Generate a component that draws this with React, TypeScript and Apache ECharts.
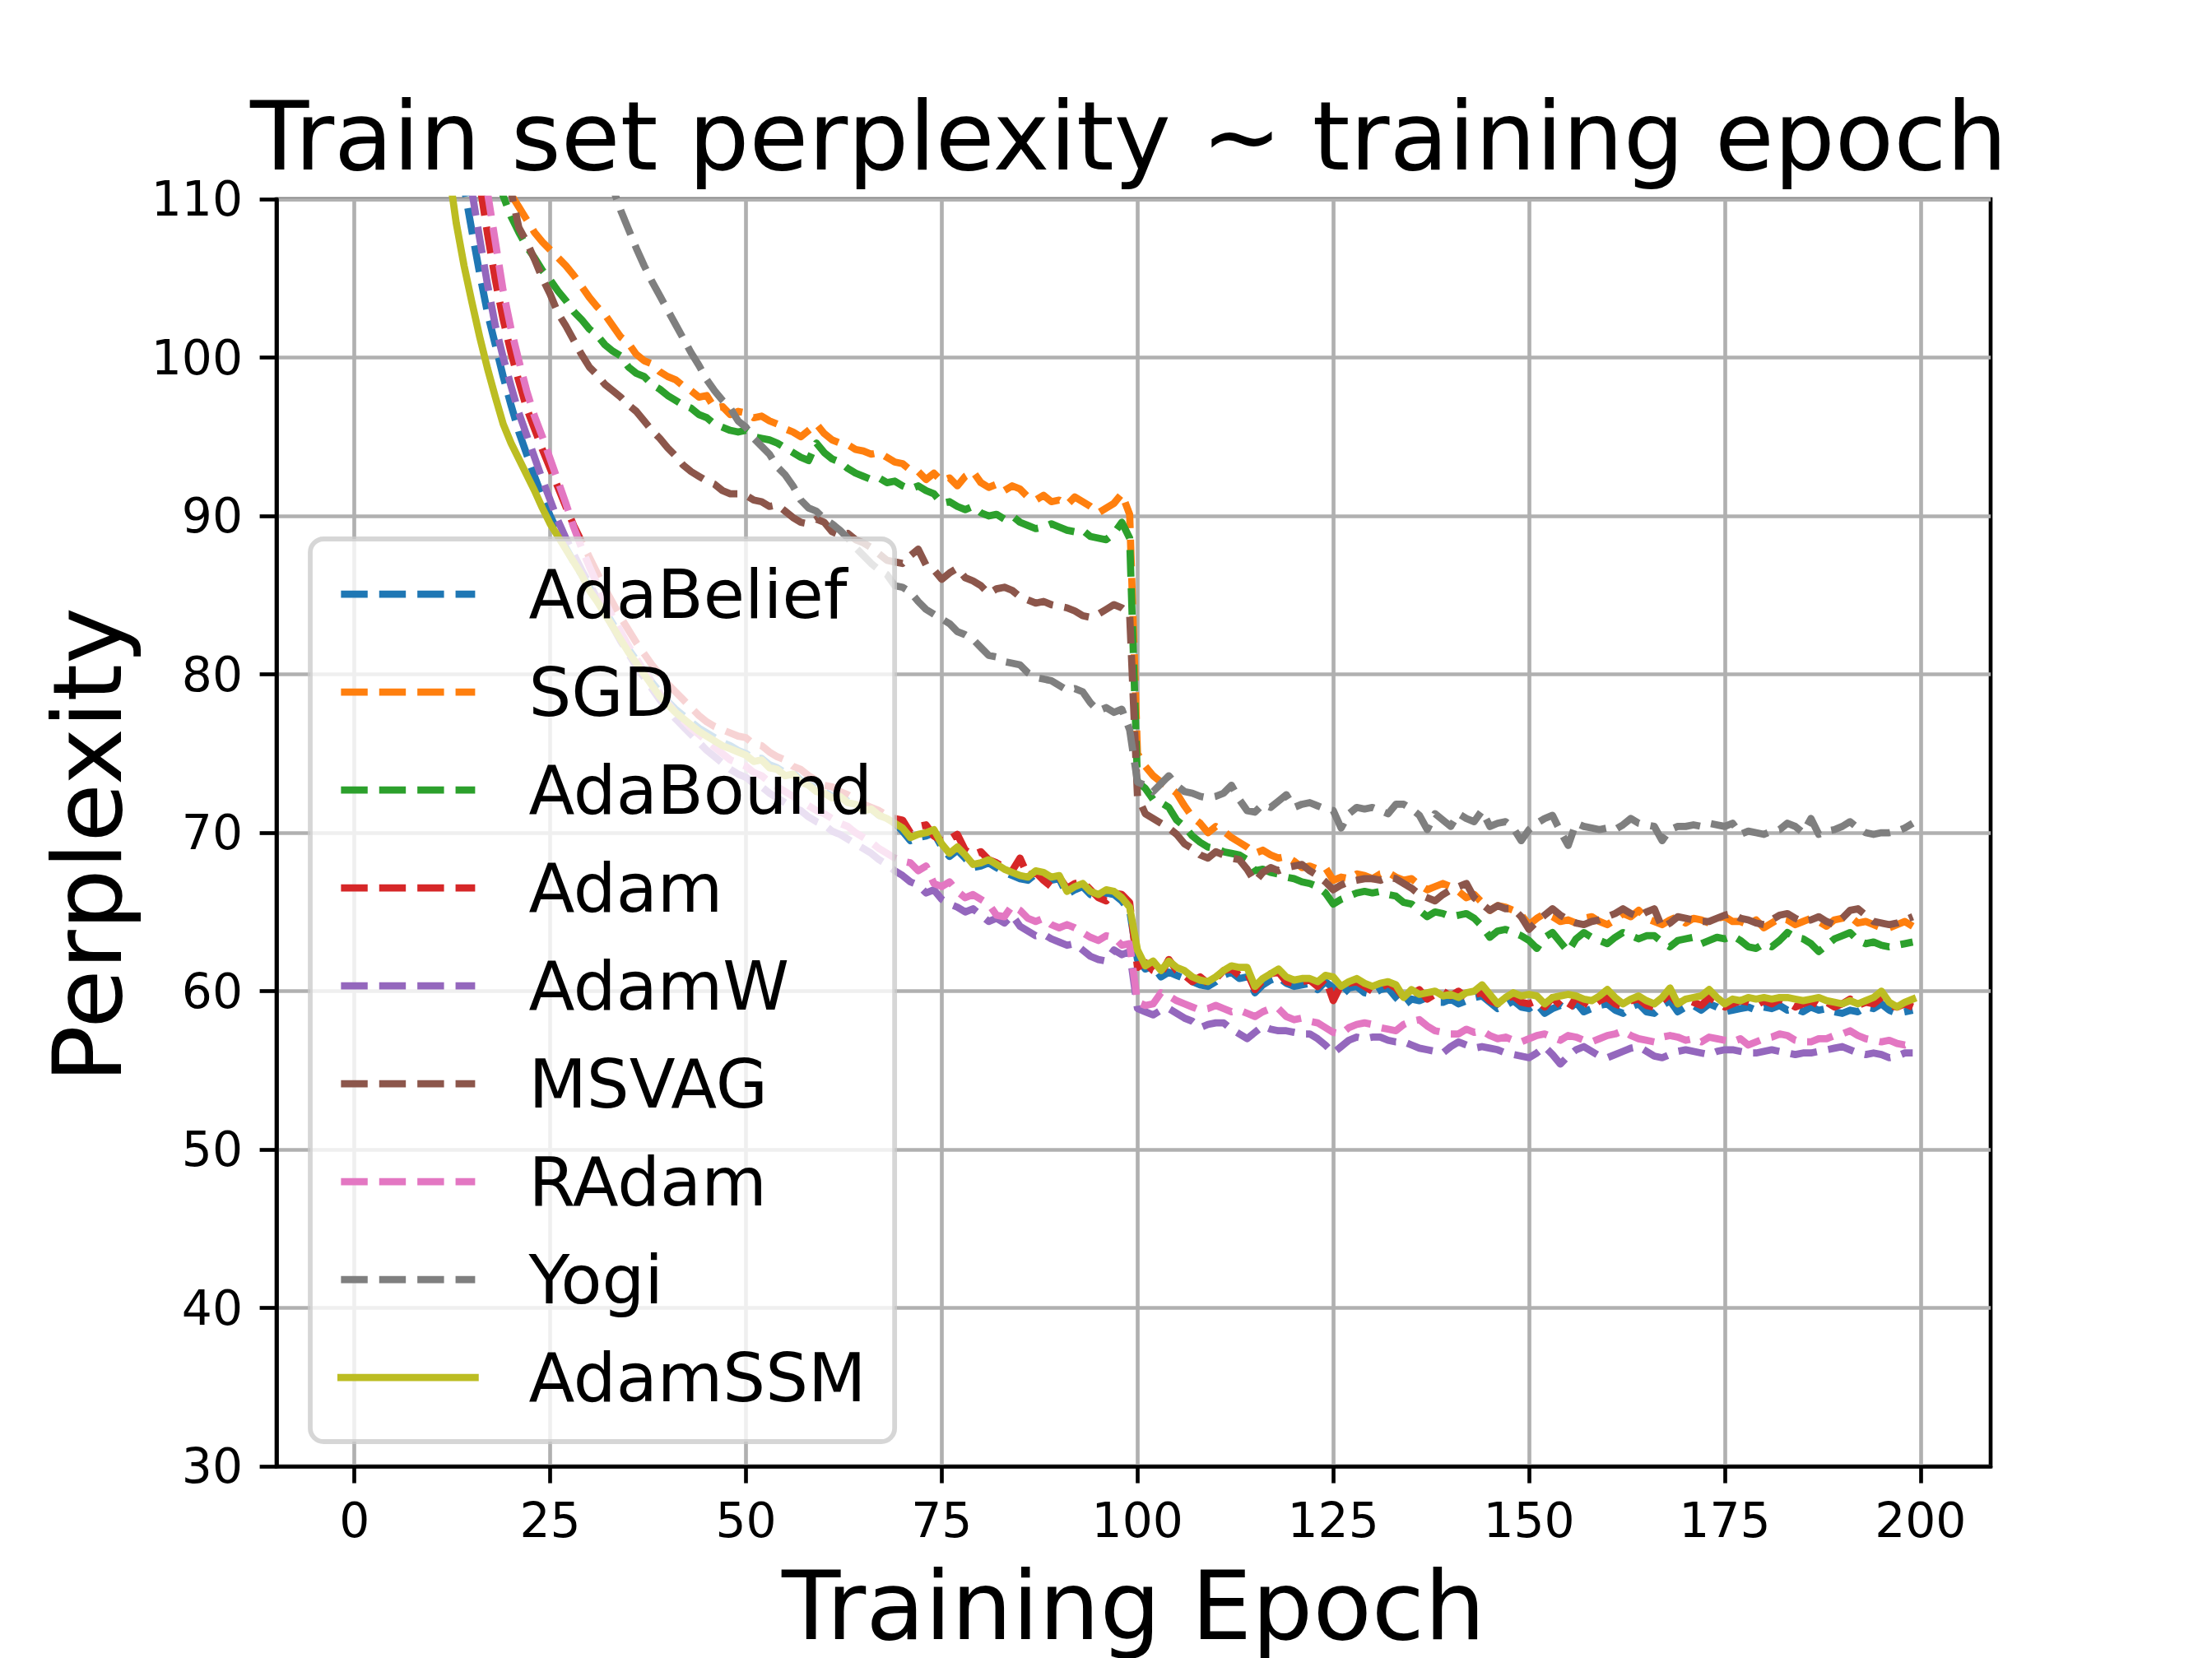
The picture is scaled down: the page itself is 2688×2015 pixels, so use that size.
import React, { useEffect, useRef } from "react";
import * as echarts from "echarts";

const epochs = Array.from({ length: 200 }, (_, i) => i);
const xTicks = [0, 25, 50, 75, 100, 125, 150, 175, 200];
const seriesNames = ["AdaBelief", "SGD", "AdaBound", "Adam", "AdamW", "MSVAG", "RAdam", "Yogi", "AdamSSM"];
const seriesColors = ["#1f77b4", "#ff7f0e", "#2ca02c", "#d62728", "#9467bd", "#8c564b", "#e377c2", "#7f7f7f", "#bcbd22"];

const adaBelief = [
  1500, 1000, 700, 520, 400, 320, 265, 225, 195, 172,
  155, 140, 128, 119, 110.8, 108.0, 105.3, 102.8, 100.8, 98.8,
  97.0, 95.3, 93.9, 92.5, 91.2, 90.0, 89.0, 88.0, 87.1, 86.3,
  85.5, 84.8, 84.0, 83.2, 82.4, 81.6, 80.9, 80.2, 79.5, 78.9,
  78.3, 77.8, 77.4, 77.0, 76.6, 76.3, 76.0, 75.7, 75.5, 75.2,
  75.0, 74.7, 74.7, 74.3, 74.1, 73.8, 73.8, 73.3, 73.1, 72.8,
  72.6, 72.3, 72.4, 72.0, 71.8, 71.5, 71.5, 71.1, 70.9, 70.6,
  70.1, 69.5, 69.7, 69.8, 70.0, 69.1, 68.5, 68.9, 68.4, 67.8,
  67.9, 68.1, 67.8, 67.5, 67.3, 67.1, 67.0, 67.4, 67.3, 67.0,
  67.1, 66.1, 66.4, 66.6, 66.1, 65.9, 66.2, 66.1, 65.7, 65.1,
  62.0, 61.4, 61.6, 60.9, 61.2, 61.0, 60.8, 60.6, 60.4, 60.3,
  60.6, 61.0, 61.2, 60.8, 60.9, 59.9, 60.4, 60.7, 60.9, 60.5,
  60.3, 60.4, 60.5, 60.1, 60.6, 60.2, 59.7, 60.2, 60.3, 59.9,
  59.8, 60.1, 60.2, 59.6, 59.1, 59.5, 59.4, 59.6, 59.3, 59.3,
  59.5, 59.2, 59.4, 59.6, 59.7, 59.3, 58.9, 59.1, 59.4, 59.0,
  58.9, 59.2, 58.6, 58.9, 59.1, 58.8, 59.3, 58.7, 58.9, 59.1,
  59.2, 58.8, 58.6, 59.0, 59.2, 58.7, 58.6, 59.1, 59.4, 58.7,
  59.0, 59.1, 58.8, 59.2, 59.0, 58.7, 58.8, 58.9, 59.0, 58.8,
  59.0, 58.9, 59.1, 58.8, 58.9, 58.7, 59.0, 58.8, 58.9, 58.7,
  58.6, 58.8, 58.7, 59.0, 58.9, 59.2, 58.8, 58.6, 58.7, 58.8,
];

const sgd = [
  2500, 1500, 900, 600, 420, 310, 240, 195, 165, 145,
  133, 126, 121, 118, 116, 114.5, 113.3, 112.3, 111.5, 110.9,
  110.3, 109.5, 108.7, 107.9, 107.3, 106.8, 106.3, 105.8, 105.2, 104.5,
  103.8, 103.2, 102.7, 102.0, 101.3, 100.9, 100.2, 99.8, 99.6, 99.1,
  98.8, 98.6, 98.2, 97.9, 97.5, 97.6, 96.8, 96.9, 96.4, 96.6,
  96.5, 96.2, 96.3, 96.0, 95.8, 95.5, 95.3, 95.0, 95.4, 95.8,
  95.2, 94.8, 94.6, 94.5, 94.2, 94.1, 93.9, 94.0, 93.7, 93.4,
  93.3, 92.9, 92.8, 92.3, 92.7, 92.2, 92.4, 91.9, 92.5, 92.8,
  92.1, 91.8, 92.0, 91.6, 91.9, 91.7, 91.2, 91.0, 91.3, 90.9,
  91.0, 90.7, 91.2, 90.9, 90.6, 90.2, 90.5, 90.8, 91.4, 90.1,
  75.0, 74.2, 73.6, 73.2, 72.9, 72.5, 71.7, 71.0, 70.6, 70.0,
  70.4, 70.1, 69.7, 69.4, 69.1, 68.7, 68.9, 68.6, 68.4, 68.5,
  68.2, 67.8, 67.9, 67.7, 67.8, 67.0, 67.2, 67.1, 67.4, 67.3,
  67.1, 67.4, 67.5, 67.2, 67.0, 67.1, 66.7, 66.4, 66.6, 66.8,
  66.6, 66.3, 65.9, 66.1, 65.6, 65.1, 65.4, 65.3, 65.1, 64.8,
  64.2, 64.6, 64.9, 64.7, 64.4, 64.5, 64.3, 64.6, 64.7, 64.4,
  64.2, 64.5, 64.9, 64.7, 65.1, 64.6, 64.4, 64.2, 64.5, 64.7,
  64.3, 64.6, 64.5, 64.3, 64.6, 64.7, 64.4, 64.4, 64.2, 64.5,
  64.0, 64.3, 64.6, 64.5, 64.2, 64.4, 64.6, 64.4, 64.1, 64.5,
  64.6, 64.7, 64.3, 64.4, 64.2, 64.0, 64.0, 64.2, 64.4, 64.1,
];

const adaBound = [
  2400, 1450, 880, 590, 410, 300, 235, 190, 160, 140,
  128, 122, 118, 116, 114.8, 114.0, 113.3, 112.7, 111.6, 110.2,
  108.9, 107.9, 107.0, 106.3, 105.5, 104.9, 104.2, 103.6, 102.9, 102.4,
  101.8, 101.4, 100.8, 100.4, 100.1, 99.4, 99.0, 98.8, 98.3, 98.0,
  97.6, 97.3, 97.0, 96.8, 96.4, 96.2, 95.8, 95.6, 95.4, 95.3,
  95.4, 95.0, 94.9, 94.8, 94.6, 94.3, 94.0, 93.7, 93.5, 94.6,
  94.0, 93.6, 93.4, 93.0, 92.7, 92.5, 92.3, 92.4, 92.1, 92.2,
  91.9, 91.7, 91.9, 91.6, 91.4, 90.8, 90.9, 90.6, 90.4, 90.6,
  90.2, 90.0, 90.1, 89.8, 90.0, 89.6, 89.4, 89.2, 89.3, 89.5,
  89.3, 89.1, 89.0, 89.1, 88.7, 88.6, 88.5, 88.9, 89.6, 88.6,
  73.2, 72.8, 72.1, 71.9, 71.6, 70.8, 70.4, 69.8, 69.4, 69.1,
  69.0, 68.8, 68.7, 68.6, 68.3, 67.6, 67.7, 67.5, 67.4, 67.2,
  67.1, 66.9, 66.8, 66.6, 66.2, 65.5, 65.8, 66.0, 66.2, 66.3,
  66.2, 66.3, 66.1, 66.0, 65.6, 65.5, 65.1, 64.7, 65.0, 64.9,
  64.7, 64.8, 64.9, 64.6, 64.1, 63.4, 63.8, 63.9, 63.7, 63.5,
  63.2, 62.7, 63.4, 63.7, 63.1, 62.5, 63.3, 63.7, 63.4, 63.2,
  63.0, 63.4, 63.7, 63.5, 63.3, 63.5, 63.5, 63.1, 62.8, 63.2,
  63.3, 63.4, 63.0, 63.2, 63.4, 63.3, 63.5, 63.2, 62.8, 62.7,
  63.0, 62.8, 63.2, 63.7, 63.4, 63.3, 63.0, 62.5, 62.9, 63.3,
  63.5, 63.7, 63.2, 63.0, 63.1, 62.9, 62.8, 62.9, 63.0, 63.1,
];

const adam = [
  1800, 1200, 820, 600, 460, 360, 295, 245, 208, 180,
  160, 145, 133, 124, 118, 114, 111, 107.8, 104.9, 102.4,
  100.3, 98.5, 96.8, 95.5, 94.2, 93.0, 91.8, 90.6, 89.4, 88.4,
  87.4, 86.4, 85.4, 84.5, 83.6, 82.8, 82.0, 81.3, 80.6, 80.0,
  79.4, 78.9, 78.4, 77.9, 77.4, 77.0, 76.7, 76.5, 76.3, 76.1,
  76.0, 75.6, 75.5, 75.1, 74.8, 74.6, 74.2, 74.0, 73.6, 73.3,
  73.0, 72.9, 72.6, 72.4, 72.1, 71.8, 71.6, 71.4, 71.1, 70.9,
  70.8, 70.0, 70.4, 70.5, 69.8, 69.5, 69.6, 69.9, 68.9, 68.6,
  68.8, 68.3, 68.1, 67.8, 67.6, 68.4, 67.3, 67.5, 67.0, 66.6,
  67.2, 66.5, 66.8, 66.9, 66.4, 65.9, 65.7, 66.2, 66.1, 65.6,
  61.5, 61.8, 61.3, 61.1, 62.0, 61.3, 61.0, 60.6, 60.9, 60.5,
  60.8, 61.3, 61.4, 61.0, 61.2, 60.1, 60.7, 61.1, 61.2, 60.6,
  60.5, 60.6, 60.7, 60.3, 60.8, 59.4, 60.4, 60.5, 60.6, 60.3,
  60.0, 60.2, 60.5, 60.2, 59.6, 59.8, 60.1, 59.5, 59.8, 60.0,
  59.7, 60.0, 59.6, 59.8, 59.9, 59.4, 59.2, 59.5, 59.7, 59.3,
  59.2, 59.4, 59.0, 59.6, 59.1, 58.8, 59.6, 59.3, 59.0, 59.4,
  59.6, 59.2, 59.0, 59.4, 59.5, 59.1, 59.0, 59.4, 59.8, 59.2,
  59.5, 59.3, 59.1, 59.6, 59.3, 59.0, 59.2, 59.4, 59.3, 59.1,
  59.4, 59.2, 59.5, 59.3, 59.0, 59.2, 59.4, 59.1, 59.3, 59.0,
  59.2, 59.5, 59.1, 59.3, 59.2, 59.6, 59.1, 59.0, 59.2, 59.0,
];

const adamW = [
  1600, 1100, 760, 560, 430, 340, 280, 235, 202, 176,
  157, 142, 130, 121, 115, 110.5, 107.5, 104.6, 102.0, 100.0,
  98.2, 96.5, 95.1, 93.7, 92.3, 91.0, 89.7, 88.6, 87.6, 86.6,
  85.7, 84.8, 83.9, 83.0, 82.1, 81.3, 80.5, 79.8, 79.1, 78.4,
  77.8, 77.2, 76.7, 76.2, 75.7, 75.2, 74.8, 74.4, 74.0, 73.7,
  73.5, 73.1, 72.9, 72.5, 72.2, 71.9, 71.6, 71.4, 71.0, 70.7,
  70.5, 70.1, 69.9, 69.6, 69.3, 69.0, 68.7, 68.3, 68.0, 67.6,
  67.3, 66.9, 66.7, 66.2, 66.4, 65.8, 65.5, 65.3, 65.0, 65.2,
  64.8, 64.4, 64.6, 64.3, 64.8, 64.1, 63.8, 63.5, 63.6, 63.3,
  63.1, 62.9, 63.0, 62.6, 62.2, 62.0, 61.9, 62.6, 62.3, 62.5,
  58.9, 58.7, 58.5, 58.8, 58.9, 58.6, 58.3, 58.1, 57.7, 57.9,
  58.0, 58.0, 57.6, 57.3, 57.0, 57.4, 57.8, 57.6, 57.5, 57.5,
  57.4, 57.3, 57.3, 57.0, 56.6, 56.1, 56.5, 56.9, 57.1, 57.0,
  57.1, 57.1, 56.9, 56.8, 56.8, 56.6, 56.4, 56.3, 56.2, 56.1,
  56.5, 56.8, 56.6, 56.4, 56.5, 56.4, 56.3, 56.1, 56.0, 55.9,
  55.8, 56.1, 56.5, 56.0, 55.4, 55.9, 56.3, 56.5, 56.2, 55.9,
  55.8, 56.0, 56.2, 56.4, 56.5, 56.2, 55.9, 55.8, 56.0, 56.2,
  56.3, 56.2, 56.1, 56.0, 56.2, 56.3, 56.3, 56.2, 56.1, 56.1,
  56.2, 56.3, 56.2, 56.1, 56.0, 56.1, 56.1, 56.2, 56.3, 56.4,
  56.5, 56.3, 56.1, 56.0, 56.1, 56.0, 55.8, 55.9, 56.1, 56.1,
];

const msvag = [
  2200, 1350, 820, 560, 400, 300, 235, 192, 163, 143,
  130, 123, 119, 117, 115.6, 114.8, 114.0, 113.4, 112.9, 112.2,
  110.5, 108.2, 107.3, 106.2, 105.0, 104.0, 102.8, 102.0, 101.1, 100.2,
  99.4, 98.9, 98.3, 97.9, 97.5, 97.0, 96.6, 96.0, 95.4, 94.9,
  94.3, 93.8, 93.2, 92.8, 92.5, 92.2, 92.0, 91.6, 91.4, 91.4,
  91.3, 91.0, 90.9, 90.6, 90.7, 90.3, 89.9, 89.6, 89.5, 89.8,
  89.6, 89.0, 88.8, 88.9, 88.5, 88.3, 88.0, 87.6, 87.2, 87.1,
  87.0, 87.5, 87.9, 86.9, 86.6, 86.0, 86.4, 86.7, 86.1, 85.9,
  85.6, 85.1, 85.4, 85.5, 85.3, 84.9, 84.7, 84.5, 84.6, 84.4,
  84.3, 84.2, 84.0, 83.7, 83.6, 83.8, 84.1, 84.4, 84.2, 83.8,
  72.3, 71.2, 70.9, 70.6, 70.3, 69.9, 69.3, 69.0, 68.6, 68.4,
  68.8, 68.6, 68.4, 68.3, 67.7, 66.9, 67.5, 67.8, 67.6, 67.8,
  67.9, 68.0, 67.6, 67.3, 66.9, 66.4, 66.7, 66.9, 67.0, 67.1,
  67.1, 67.0, 67.2, 67.1, 66.8, 66.5, 66.1, 65.9, 65.7, 66.1,
  66.4, 66.6, 66.8, 65.9, 65.5, 65.1, 65.4, 65.2, 65.2, 64.7,
  63.9, 64.4, 64.8, 65.2, 64.8, 64.5, 64.3, 64.2, 64.4, 64.5,
  64.7, 64.9, 65.2, 64.9, 64.7, 65.0, 65.2, 64.0, 64.3, 64.7,
  64.6, 64.5, 64.4, 64.4, 64.6, 64.8, 64.9, 64.6, 64.5, 64.3,
  64.2, 64.5, 64.8, 64.9, 64.6, 64.4, 64.5, 64.7, 64.4, 64.2,
  64.6, 65.1, 65.2, 64.8, 64.4, 64.3, 64.2, 64.3, 64.5, 64.7,
];

const rAdam = [
  2000, 1300, 880, 640, 490, 385, 315, 262, 222, 192,
  170, 152, 139, 129, 122, 117, 113, 110.4, 107.3, 104.2,
  101.8, 99.8, 97.9, 96.3, 95.0, 93.6, 92.2, 90.8, 89.3, 88.0,
  86.8, 85.7, 84.6, 83.6, 82.7, 81.8, 81.0, 80.2, 79.5, 78.8,
  78.2, 77.6, 77.1, 76.6, 76.2, 75.8, 75.4, 75.0, 74.6, 74.4,
  74.2, 73.8, 73.6, 73.2, 72.9, 72.6, 72.3, 72.0, 71.7, 71.4,
  71.2, 70.9, 70.6, 70.4, 70.0, 69.7, 69.4, 69.0, 68.7, 68.4,
  68.2, 68.1, 67.6, 67.9, 66.8, 66.6, 66.9, 66.3, 65.9, 66.1,
  65.8, 65.5, 64.8, 64.7, 65.4, 65.1, 64.6, 64.4, 64.6, 64.2,
  64.0, 64.2, 64.0, 63.7, 63.4, 63.2, 63.5, 63.4, 62.9, 63.0,
  59.3, 59.1, 59.2, 59.9, 59.7, 59.4, 59.2, 59.0, 58.8, 58.9,
  59.1, 58.9, 58.7, 58.8, 58.6, 58.4, 58.7, 58.9, 58.9, 58.4,
  58.2, 58.3, 58.1, 58.0, 57.7, 57.4, 57.3, 57.7, 57.9, 58.0,
  57.9, 57.7, 57.6, 57.5, 57.9, 58.1, 58.2, 57.8, 57.5, 57.4,
  57.3, 57.3, 57.6, 57.4, 57.5, 57.2, 57.0, 57.1, 56.9, 56.8,
  57.0, 57.2, 57.3, 57.1, 56.9, 57.2, 57.1, 56.9, 56.8, 57.0,
  57.2, 57.3, 57.5, 57.2, 57.0, 56.9, 56.8, 57.1, 57.2, 57.1,
  56.9, 57.0, 56.8, 57.1, 57.0, 56.9, 56.8, 57.0, 56.6, 56.8,
  57.0, 57.1, 57.3, 57.2, 56.9, 56.8, 56.8, 57.0, 57.0, 57.2,
  57.3, 57.5, 57.2, 57.0, 56.9, 56.8, 56.9, 56.7, 56.6, 56.8,
];

const yogi = [
  3000, 2000, 1300, 900, 650, 490, 385, 315, 265, 230,
  205, 187, 173, 162, 153, 146, 141, 137, 134, 131,
  129, 127, 125, 123.2, 121.6, 120.2, 119.0, 117.9, 116.9, 116.0,
  114.8, 113.5, 112.1, 110.7, 109.3, 108.1, 106.9, 105.8, 104.8, 103.9,
  103.0, 102.1, 101.2, 100.3, 99.5, 98.6, 97.9, 97.3, 96.8, 96.0,
  95.6, 94.9, 94.4, 93.9, 93.1, 92.6, 91.9, 91.0, 90.5, 90.3,
  89.8, 89.5, 89.1, 88.6, 88.0, 87.5, 87.0, 86.6, 86.3, 85.6,
  85.5, 85.2, 84.6, 84.1, 83.8, 83.5, 83.2, 82.7, 82.5, 82.2,
  81.7, 81.2, 81.1, 80.8, 80.7, 80.6, 80.1, 79.8, 79.7, 79.6,
  79.3, 79.0, 79.1, 78.9, 78.2, 77.7, 77.9, 77.6, 77.8, 76.5,
  73.2, 73.0, 72.6, 73.1, 73.6, 73.0, 72.6, 72.5, 72.3, 72.2,
  72.3, 72.5, 73.0, 72.1, 71.4, 71.3, 71.8, 71.6, 72.0, 72.4,
  71.6, 71.8, 71.9, 71.7, 71.5, 71.4, 70.3, 71.2, 71.6, 71.5,
  71.6, 71.4, 71.2, 71.8, 71.8, 71.5, 71.1, 70.2, 71.2, 70.8,
  70.4, 71.2, 70.9, 70.7, 71.4, 70.4, 70.6, 70.7, 70.3, 69.5,
  70.2, 70.6, 70.9, 71.1, 70.1, 69.2, 70.6, 70.4, 70.3, 70.2,
  70.3, 70.2, 70.5, 70.9, 70.6, 70.5, 70.4, 69.5, 70.2, 70.4,
  70.4, 70.5, 70.4, 70.6, 70.5, 70.4, 70.6, 69.9, 70.1, 70.0,
  69.9, 70.1, 70.2, 70.6, 70.4, 70.0, 70.9, 69.9, 70.1, 70.2,
  70.4, 70.7, 70.3, 70.0, 69.9, 70.0, 70.0, 70.1, 70.3, 70.6,
];

const adamSSM = [
  1200, 800, 560, 420, 330, 270, 225, 190, 165, 145,
  128, 119, 112, 108.5, 105.8, 103.5, 101.3, 99.3, 97.5, 95.8,
  94.6, 93.6, 92.6, 91.6, 90.5, 89.5, 88.7, 87.9, 87.1, 86.3,
  85.3, 84.6, 83.8, 83.0, 82.2, 81.4, 80.7, 80.0, 79.3, 78.6,
  78.1, 77.6, 77.2, 76.8, 76.4, 76.1, 75.8, 75.5, 75.3, 75.1,
  74.9, 74.5, 74.6, 74.1, 74.0, 73.6, 73.7, 73.2, 73.0, 72.6,
  72.5, 72.2, 72.3, 71.9, 71.8, 71.4, 71.5, 71.1, 70.9, 70.6,
  70.3, 69.7, 69.9, 70.0, 70.2, 69.3, 68.7, 69.1, 68.6, 68.0,
  68.1, 68.3, 68.0, 67.7, 67.5, 67.3, 67.2, 67.6, 67.5, 67.2,
  67.3, 66.3, 66.6, 66.8, 66.3, 66.1, 66.4, 66.3, 65.9, 65.3,
  62.6, 61.6, 61.9, 61.3, 61.9, 61.5, 61.3, 60.9, 60.7, 60.6,
  60.9, 61.3, 61.6, 61.5, 61.5, 60.3, 60.8, 61.1, 61.4, 60.9,
  60.7, 60.8, 60.8, 60.6, 61.0, 60.9, 60.3, 60.6, 60.8, 60.5,
  60.3, 60.5, 60.6, 60.4, 59.6, 60.1, 59.8, 59.9, 60.0, 59.7,
  59.8, 59.6, 59.9, 60.0, 60.4, 59.8, 59.2, 59.6, 59.9, 59.7,
  59.8, 59.7, 59.2, 59.6, 59.7, 59.8, 59.7, 59.5, 59.4, 59.7,
  60.1, 59.6, 59.2, 59.5, 59.7, 59.4, 59.2, 59.6, 60.2, 59.2,
  59.5, 59.6, 59.7, 60.1, 59.6, 59.2, 59.5, 59.4, 59.6, 59.5,
  59.6, 59.5, 59.6, 59.6, 59.5, 59.4, 59.5, 59.6, 59.4, 59.3,
  59.2, 59.4, 59.2, 59.4, 59.6, 60.0, 59.3, 59.0, 59.3, 59.5,
];

const seriesValues = [adaBelief, sgd, adaBound, adam, adamW, msvag, rAdam, yogi, adamSSM];

const FONT = "DejaVu Sans";
const LW = 8.75;
const DASH = [32.4, 14];

export default function App() {
  const ref = useRef<HTMLDivElement>(null);
  useEffect(() => {
    if (!ref.current) return;
    const chart = echarts.init(ref.current, null, { renderer: "svg" });
    const series = seriesNames.map((name, i) => {
      const solid = name === "AdamSSM";
      return {
        name,
        type: "line",
        data: seriesValues[i].map((v, j) => [epochs[j], v]),
        symbol: "none",
        showSymbol: false,
        smooth: false,
        clip: true,
        silent: true,
        emphasis: { disabled: true },
        itemStyle: { color: seriesColors[i] },
        lineStyle: {
          color: seriesColors[i],
          width: LW,
          type: solid ? "solid" : DASH,
          cap: solid ? "square" : "butt",
          join: "round",
        },
      };
    });
    chart.setOption({
      animation: false,
      backgroundColor: "#ffffff",
      textStyle: { fontFamily: FONT },
      title: {
        text: "Train set perplexity ~ training epoch",
        left: 304,
        top: 108,
        padding: 0,
        textStyle: { fontSize: 116.7, fontWeight: "normal", color: "#000", fontFamily: FONT, lineHeight: 116.7 },
      },
      grid: {
        left: 336,
        right: 269,
        top: 242,
        bottom: 222,
        show: true,
        borderColor: "#000",
        borderWidth: 4.67,
        backgroundColor: "transparent",
      },
      xAxis: {
        type: "value",
        min: -9.95,
        max: 208.95,
        name: "Training Epoch",
        nameLocation: "middle",
        nameGap: 111,
        nameTextStyle: { fontSize: 116.7, color: "#000", fontFamily: FONT, lineHeight: 116.7 },
        axisLine: { show: true, onZero: false, lineStyle: { color: "#000", width: 4.67 } },
        axisTick: { show: true, length: 20.4, customValues: xTicks, lineStyle: { color: "#000", width: 4.67 } },
        axisLabel: { customValues: xTicks, fontSize: 58.3, color: "#000", margin: 37, fontFamily: FONT },
        splitLine: { show: true, lineStyle: { color: "#b0b0b0", width: 4.67 } },
      },
      yAxis: {
        type: "value",
        min: 30,
        max: 110,
        interval: 10,
        name: "Perplexity",
        nameLocation: "middle",
        nameRotate: 90,
        nameGap: 171,
        nameTextStyle: {
          fontSize: 116.7,
          color: "#000",
          fontFamily: FONT,
          lineHeight: 116.7,
          padding: [0, 30, 0, 0],
        },
        axisLine: { show: true, onZero: false, lineStyle: { color: "#000", width: 4.67 } },
        axisTick: { show: true, length: 20.4, lineStyle: { color: "#000", width: 4.67 } },
        axisLabel: { fontSize: 58.3, color: "#000", margin: 41, fontFamily: FONT },
        splitLine: { show: true, lineStyle: { color: "#b0b0b0", width: 4.67 } },
      },
      legend: {
        orient: "vertical",
        left: 377,
        top: 655,
        padding: [22, 27, 33, 33],
        itemWidth: 163,
        itemHeight: 20,
        itemGap: 29,
        selectedMode: false,
        backgroundColor: "rgba(255,255,255,0.8)",
        borderColor: "rgba(204,204,204,0.8)",
        borderWidth: 5.8,
        borderRadius: 16.3,
        lineStyle: { width: LW },
        itemStyle: { opacity: 0, borderWidth: 0 },
        textStyle: { fontSize: 81.7, color: "#000", fontFamily: FONT, lineHeight: 90, padding: [0, 0, 0, 60] },
        data: seriesNames,
      },
      series,
    });
    return () => chart.dispose();
  }, []);
  return (
    <div
      ref={ref}
      style={{ position: "absolute", left: 0, top: 0, width: "2688px", height: "2015px", background: "#fff" }}
    />
  );
}
